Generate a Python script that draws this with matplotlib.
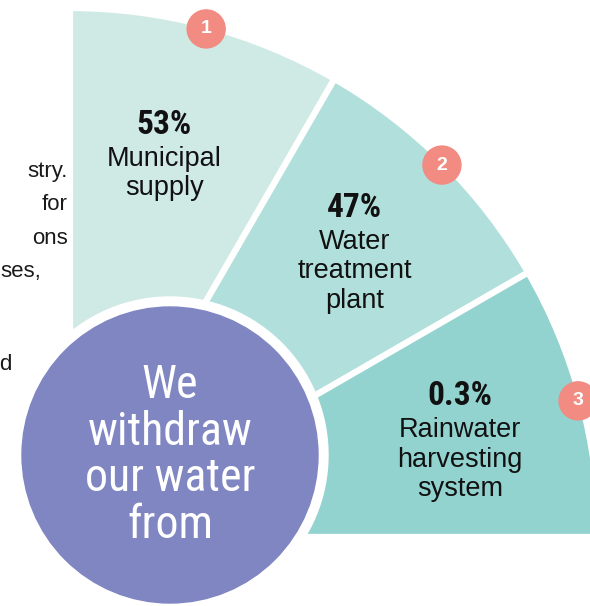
import matplotlib.pyplot as plt
from matplotlib.patches import Wedge, Circle
from matplotlib import font_manager as fm
import numpy as np

# data
numbers = ["1", "2", "3"]
shares = ["53%", "47%", "0.3%"]
sources = [["Municipal", "supply"],
           ["Water", "treatment", "plant"],
           ["Rainwater", "harvesting", "system"]]
colors = ["#cfe9e5", "#b1dfdb", "#93d3cf"]
center_text = "We\nwithdraw\nour water\nfrom"
# body text that is cut by the left border of the picture
side_lines = ["stry.", "for", "ons", "ses,", "d"]

# pick a narrow font for the centre text if one is installed
names = {f.name for f in fm.fontManager.ttflist}
narrow = "Liberation Sans"
for cand in ["Roboto Condensed", "Liberation Sans Narrow", "Open Sans Condensed"]:
    if cand in names:
        narrow = cand
        break

W, H = 590, 606
fig = plt.figure(figsize=(W / 100, H / 100), dpi=100)
ax = fig.add_axes([0, 0, 1, 1])
ax.set_xlim(0, W)
ax.set_ylim(0, H)
ax.set_aspect("equal")
ax.axis("off")

cx, cy = 70, H - 537
R = 529
step = 90 / len(shares)

# fan segments, first one at the top
for i, col in enumerate(colors):
    t2 = 90 - i * step
    t1 = t2 - step
    ax.add_patch(Wedge((cx, cy), R, t1, t2, facecolor=col, edgecolor="white", lw=4.5))

    mid = np.radians((t1 + t2) / 2)
    bx, by = cx + (R - 3) * np.cos(mid), cy + (R - 3) * np.sin(mid)
    ax.add_patch(Circle((bx, by), 19, color="#f28b82", zorder=5))
    ax.text(bx, by, numbers[i], color="white", fontsize=14, fontweight="bold",
            ha="center", va="center", zorder=6, family="Liberation Sans")

# label block centre (angle, radius) per segment
lab_ang = [76.1, 44.8, 13.6]
lab_r = [392, 401, 401]
gap, lsp = 34, 29.5
for i in range(len(shares)):
    a = np.radians(lab_ang[i])
    lx, ly = cx + lab_r[i] * np.cos(a), cy + lab_r[i] * np.sin(a)
    n = len(sources[i])
    ytop = ly + (gap + (n - 1) * lsp) / 2
    ax.text(lx, ytop, shares[i], fontsize=24, fontweight="bold", ha="center", va="center",
            color="#111111", family=narrow)
    for j, line in enumerate(sources[i]):
        ax.text(lx, ytop - gap - j * lsp, line, fontsize=19.5, ha="center", va="center",
                color="#111111", family="Liberation Sans")

# centre circle
ccx, ccy = 170, H - 455
ax.add_patch(Circle((ccx, ccy), 158, color="white", zorder=7))
ax.add_patch(Circle((ccx, ccy), 148, color="#7f86c2", zorder=8))
ax.text(ccx, ccy, center_text, fontsize=33, color="white", ha="center", va="center",
        family=narrow, linespacing=1.08, zorder=9)

# body text at the left border
side_x = [68, 68, 68, 41, 11]
side_y = [172, 204, 238, 272, 365]
for s, x, y in zip(side_lines, side_x, side_y):
    ax.text(x, H - y, s, fontsize=16, ha="right", va="center", color="#1a1a1a",
            family="Liberation Sans")

fig.savefig("out.png", dpi=100)
